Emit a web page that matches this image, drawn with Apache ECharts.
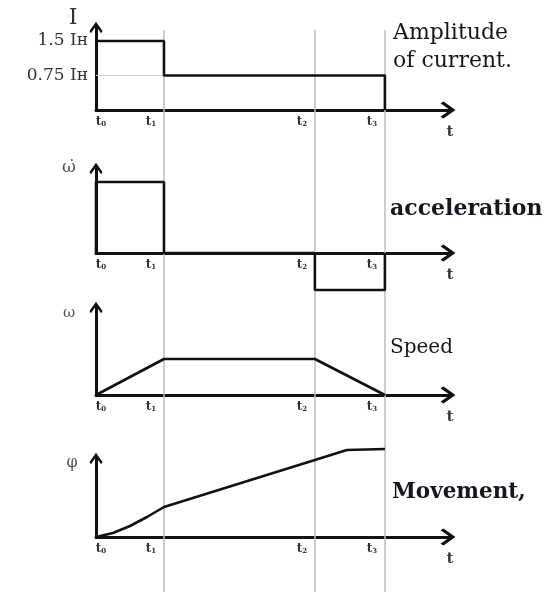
<!DOCTYPE html>
<html>
<head>
<meta charset="utf-8">
<script src="https://cdn.jsdelivr.net/npm/echarts@6/dist/echarts.min.js"></script>
<style>
html,body{margin:0;padding:0;background:#fff;}
#c{width:549px;height:592px;}
</style>
</head>
<body>
<div id="c"></div>
<script>
// ---- data ----
const tickTimes = [0, 2, 6.44, 8.5];           // t0, t1, t2, t3
const tickSubs = ['0', '1', '2', '3'];
const X_MAX = 10.43;

const currentT = [0, 2, 2, 8.5, 8.5];
const currentI = [1.5, 1.5, 0.75, 0.75, 0];
const currentTicks = [0.75, 1.5];
const currentTickLabels = ['0.75 Iн', '1.5 Iн'];

const accelT = [0, 0, 2, 2, 6.44, 6.44, 8.5, 8.5];
const accelV = [0, 1, 1, 0, 0, -0.52, -0.52, 0];

const speedT = [0, 2, 6.44, 8.5];
const speedV = [0, 1, 1, 0];

const moveT = [0, 0.5, 1.0, 1.5, 2.0, 6.44, 7.38, 8.5];
const moveV = [0, 0.048, 0.131, 0.238, 0.357, 0.917, 1.036, 1.048];

const panelNames = ['I', 'ω̇', 'ω', 'φ'];
const axisName = 't';
const panelTexts = [['Amplitude', 'of current.'], ['acceleration'], ['Speed'], ['Movement,']];

// ---- layout / style ----
const SERIF = '"DejaVu Serif", serif';
const BLACK = '#111';
const chev = 'path://M8.5,0 L17,12 L15.2,15 L8.5,5.5 L1.8,15 L0,12 Z';
const LEFT = 96, WIDTH = 354.5;
const panels = [
  {top: 26, height: 84, yMax: 1.826, nameGap: 8, padR: 46, nameSize: 22, nameColor: '#333'},
  {top: 167, height: 86, yMax: 1.211, nameGap: -1, padR: 54, nameSize: 17, nameColor: '#555'},
  {top: 306, height: 89, yMax: 2.472, nameGap: -7, padR: 54, nameSize: 15, nameColor: '#555'},
  {top: 457, height: 80, yMax: 0.952, nameGap: -6, padR: 48, nameSize: 16, nameColor: '#555'}
];

function pairs(xs, ys) { return xs.map((x, i) => [x, ys[i]]); }

const grid = panels.map(p => ({left: LEFT, width: WIDTH, top: p.top, height: p.height, outerBoundsMode: 'none', containLabel: false}));
grid.push({left: LEFT, width: WIDTH, top: 30, height: 562, outerBoundsMode: 'none', containLabel: false});

const xAxis = panels.map((p, i) => ({
  type: 'value', gridIndex: i, min: 0, max: X_MAX,
  splitLine: {show: false}, axisTick: {show: false},
  axisLine: {show: true, onZero: true, lineStyle: {color: BLACK, width: 3},
    symbol: ['none', chev], symbolSize: [17, 15], symbolOffset: [0, -2.5]},
  axisLabel: {
    customValues: tickTimes, margin: 6,
    formatter: v => {
      const k = tickTimes.indexOf(v);
      if (k < 0) return '';
      return k === 0 ? '{tl|t}{s|' + tickSubs[k] + '}' : '{t|t}{sr|' + tickSubs[k] + '}';
    },
    rich: {
      t: {fontFamily: SERIF, fontWeight: 'bold', fontSize: 12, color: '#333'},
      tl: {fontFamily: SERIF, fontWeight: 'bold', fontSize: 12, color: '#333', padding: [0, 0, 0, 10]},
      s: {fontFamily: SERIF, fontWeight: 'bold', fontSize: 7, color: '#333', verticalAlign: 'bottom'},
      sr: {fontFamily: SERIF, fontWeight: 'bold', fontSize: 7, color: '#333', verticalAlign: 'bottom', padding: [0, 26, 0, 0]}
    }
  }
}));
xAxis.push({type: 'value', gridIndex: 4, min: 0, max: X_MAX, show: false});

const yAxis = panels.map((p, i) => ({
  type: 'value', gridIndex: i, min: 0, max: p.yMax,
  splitLine: {show: false}, axisTick: {show: false},
  axisLine: {show: true, onZero: true, lineStyle: {color: BLACK, width: 3},
    symbol: ['none', chev], symbolSize: [13, 12], symbolOffset: [0, -1.5]},
  axisLabel: i === 0 ? {
    customValues: currentTicks, margin: 8,
    formatter: v => currentTickLabels[currentTicks.indexOf(v)] || '',
    fontFamily: SERIF, fontSize: 17, color: '#333'
  } : {show: false},
  name: panelNames[i], nameLocation: 'end', nameGap: p.nameGap,
  nameTextStyle: {fontFamily: SERIF, fontSize: p.nameSize, color: p.nameColor, align: 'center', verticalAlign: 'middle', padding: [0, p.padR, 0, 0]}
}));
yAxis.push({type: 'value', gridIndex: 4, min: 0, max: 1, show: false});

const lineBase = {type: 'line', showSymbol: false, symbol: 'none', clip: false, animation: false,
  lineStyle: {color: BLACK, width: 2.6}, z: 5};

const series = [
  Object.assign({}, lineBase, {xAxisIndex: 4, yAxisIndex: 4, data: [], z: 1,
    markLine: {silent: true, symbol: 'none', label: {show: false},
      lineStyle: {color: '#bdbdbd', width: 1.5, type: 'solid'},
      data: tickTimes.slice(1).map(t => ({xAxis: t}))}}),
  Object.assign({}, lineBase, {xAxisIndex: 0, yAxisIndex: 0, z: 2,
    lineStyle: {color: '#cfcfcf', width: 1.2}, data: [[0, currentI[2]], [currentT[1], currentI[2]]]}),
  Object.assign({}, lineBase, {xAxisIndex: 0, yAxisIndex: 0, data: pairs(currentT, currentI)}),
  Object.assign({}, lineBase, {xAxisIndex: 1, yAxisIndex: 1, data: pairs(accelT, accelV)}),
  Object.assign({}, lineBase, {xAxisIndex: 2, yAxisIndex: 2, data: pairs(speedT, speedV)}),
  Object.assign({}, lineBase, {xAxisIndex: 3, yAxisIndex: 3, data: pairs(moveT, moveV)})
];

const textSpecs = [
  {x: 393, y: 35, text: panelTexts[0][0], size: 22, weight: 'normal'},
  {x: 393, y: 63, text: panelTexts[0][1], size: 22, weight: 'normal'},
  {x: 390, y: 211, text: panelTexts[1][0], size: 22, weight: 'bold'},
  {x: 390, y: 350, text: panelTexts[2][0], size: 20, weight: 'normal'},
  {x: 392, y: 494, text: panelTexts[3][0], size: 21.5, weight: 'bold'}
];
const graphic = textSpecs.map(s => ({
  type: 'text', left: s.x, top: s.y - s.size * 0.6,
  style: {text: s.text, font: s.weight + ' ' + s.size + 'px ' + SERIF, fill: '#16161f'}
}));
panels.forEach(p => {
  graphic.push({
    type: 'text', x: 450, y: p.top + p.height + 22,
    style: {text: axisName, font: 'bold 14px ' + SERIF, fill: '#333', align: 'center', verticalAlign: 'middle'}
  });
});

const chart = echarts.init(document.getElementById('c'), null, {renderer: 'canvas'});
chart.setOption({
  animation: false,
  backgroundColor: '#fff',
  grid, xAxis, yAxis, series, graphic
});
</script>
</body>
</html>
